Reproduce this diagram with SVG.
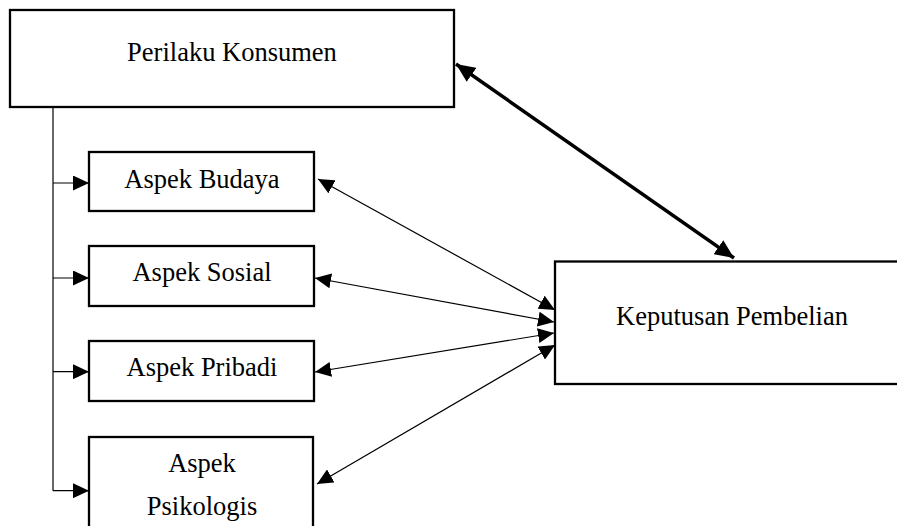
<svg xmlns="http://www.w3.org/2000/svg" width="897" height="526" viewBox="0 0 897 526">
<defs>
<style>
.box{fill:#fff;stroke:#000;stroke-width:2.3}
.lbl{font-family:"Liberation Serif","Times New Roman",serif;font-size:26.5px;fill:#000;text-anchor:middle}
.thin{fill:none;stroke:#000;stroke-width:1.2}
.thick{fill:none;stroke:#000;stroke-width:3.5}
</style>
<marker id="ah" viewBox="0 0 16 15" refX="16" refY="7.5" markerWidth="16" markerHeight="15" markerUnits="userSpaceOnUse" orient="auto-start-reverse">
<path d="M0,0 L16,7.5 L0,15 z" fill="#000"/>
</marker>
<marker id="ahk" viewBox="0 0 19 17" refX="19" refY="8.5" markerWidth="19" markerHeight="17" markerUnits="userSpaceOnUse" orient="auto-start-reverse">
<path d="M0,0 L19,8.5 L0,17 z" fill="#000"/>
</marker>
</defs>
<rect width="897" height="526" fill="#fff"/>
<g id="connectors">
<path class="thin" d="M53,107 V490.7"/>
<path class="thin" d="M53,183 H89" marker-end="url(#ah)"/>
<path class="thin" d="M53,278 H89" marker-end="url(#ah)"/>
<path class="thin" d="M53,371.7 H89" marker-end="url(#ah)"/>
<path class="thin" d="M53,490.7 H89" marker-end="url(#ah)"/>
<path class="thick" d="M456,64 L734,258" marker-start="url(#ahk)" marker-end="url(#ahk)"/>
<path class="thin" d="M318,179 L555,310" marker-start="url(#ah)" marker-end="url(#ah)"/>
<path class="thin" d="M315,278 L554,322" marker-start="url(#ah)" marker-end="url(#ah)"/>
<path class="thin" d="M315,372 L554,333" marker-start="url(#ah)" marker-end="url(#ah)"/>
<path class="thin" d="M317,484 L555,345" marker-start="url(#ah)" marker-end="url(#ah)"/>
</g>
<g id="perilaku">
<rect class="box" x="10" y="10" width="444" height="97"/>
<text class="lbl" x="232" y="61">Perilaku Konsumen</text>
</g>
<g id="budaya">
<rect class="box" x="89" y="152" width="225" height="59"/>
<text class="lbl" x="202" y="188">Aspek Budaya</text>
</g>
<g id="sosial">
<rect class="box" x="89" y="246" width="225" height="60"/>
<text class="lbl" x="202" y="281">Aspek Sosial</text>
</g>
<g id="pribadi">
<rect class="box" x="89" y="341" width="225" height="60"/>
<text class="lbl" x="202" y="376">Aspek Pribadi</text>
</g>
<g id="psikologis">
<rect class="box" x="89" y="437" width="224" height="100"/>
<text class="lbl" x="202" y="472">Aspek</text>
<text class="lbl" x="202" y="515">Psikologis</text>
</g>
<g id="keputusan">
<rect class="box" x="555" y="261.5" width="350" height="122.5"/>
<text class="lbl" x="732" y="325">Keputusan Pembelian</text>
</g>
</svg>
